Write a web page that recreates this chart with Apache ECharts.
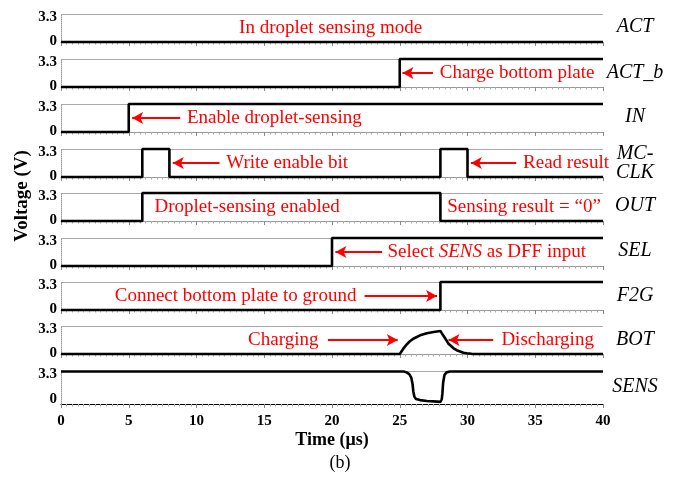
<!DOCTYPE html>
<html>
<head>
<meta charset="utf-8">
<script src="https://cdn.jsdelivr.net/npm/echarts@6/dist/echarts.min.js"></script>
<style>html,body{margin:0;background:#fff}#chart{width:684px;height:478px}</style>
</head>
<body>
<div id="chart"></div>
<script>
// signal names shown on the right of each strip
const signalNames = ['ACT', 'ACT_b', 'IN', 'MC-\nCLK', 'OUT', 'SEL', 'F2G', 'BOT', 'SENS'];
const yLabels = [0, 3.3];
const timeMin = 0, timeMax = 40, timeStep = 5;

// waveforms, [time us, volt]
const act = [[0, 0], [40, 0]];
const actB = [[0, 0], [25, 0], [25, 3.3], [40, 3.3]];
const inSig = [[0, 0], [5, 0], [5, 3.3], [40, 3.3]];
const mcClk = [[0, 0], [6, 0], [6, 3.3], [8, 3.3], [8, 0], [28, 0], [28, 3.3], [30, 3.3], [30, 0], [40, 0]];
const outSig = [[0, 0], [6, 0], [6, 3.3], [28, 3.3], [28, 0], [40, 0]];
const sel = [[0, 0], [20, 0], [20, 3.3], [40, 3.3]];
const f2g = [[0, 0], [28, 0], [28, 3.3], [40, 3.3]];
const bot = [[0, 0], [25, 0], [25.25, 0.6], [25.5, 1.1], [25.75, 1.5], [26, 1.8], [26.5, 2.2], [27, 2.45],
  [27.5, 2.6], [28, 2.72], [28.2, 2.2], [28.45, 1.6], [28.6, 1.2], [28.95, 0.7], [29.2, 0.45], [29.45, 0.3],
  [29.7, 0.15], [29.95, 0.08], [30.3, 0.02], [31, 0], [40, 0]];
const sens = [[0, 3.3], [25.3, 3.3], [25.5, 3.2], [25.7, 3.0], [25.85, 2.6], [25.95, 1.8], [26.0, 1.0],
  [26.08, 0.4], [26.2, 0.12], [26.5, 0.0], [27, -0.1], [27.5, -0.15], [28, -0.2], [28.1, 0.1], [28.15, 0.8],
  [28.2, 2.0], [28.3, 2.9], [28.45, 3.2], [28.7, 3.3], [40, 3.3]];
const waves = [act, actB, inSig, mcClk, outSig, sel, f2g, bot, sens];

// red notes: [strip, time, text, side]
const notes = [
  [0, 19.9, 'In droplet sensing mode', 'inside'],
  [1, 27.95, 'Charge bottom plate', 'right'],
  [2, 9.3, 'Enable droplet-sensing', 'right'],
  [3, 12.2, 'Write enable bit', 'right'],
  [3, 34.1, 'Read result', 'right'],
  [4, 6.9, 'Droplet-sensing enabled', 'right'],
  [4, 28.5, 'Sensing result = \u201c0\u201d', 'right'],
  [5, 24.1, 'Select {i|SENS} as DFF input', 'right'],
  [6, 21.8, 'Connect bottom plate to ground', 'left'],
  [7, 19.0, 'Charging', 'left'],
  [7, 32.5, 'Discharging', 'right']
];
// arrows: [strip, from, to]
const arrows = [
  [1, 27.45, 25.2],
  [2, 8.8, 5.25],
  [3, 11.7, 8.25],
  [3, 33.6, 30.25],
  [5, 23.7, 20.25],
  [6, 22.4, 27.75],
  [7, 19.7, 24.85],
  [7, 31.9, 28.6]
];

const serif = 'Liberation Serif';
const tops = [14, 59, 104, 149, 193, 238, 282, 326, 371.5];
const last = signalNames.length - 1;
const mid = 1.65;

const myChart = echarts.init(document.getElementById('chart'));

const grid = tops.map((t, i) => ({left: 61, right: 81, top: t, height: i === last ? 32.5 : 28}));

const xAxis = tops.map((t, i) => ({
  gridIndex: i, type: 'value', min: timeMin, max: timeMax, interval: timeStep,
  axisLine: {show: true, onZero: false, lineStyle: {color: i === last ? '#000' : '#999', width: 1}},
  axisTick: {show: true, length: 4, lineStyle: {color: '#888'}},
  minorTick: {show: true, splitNumber: 12, length: 2.5, lineStyle: {color: '#aaa'}},
  splitLine: {show: false},
  axisLabel: {show: i === last, color: '#000', fontFamily: serif, fontWeight: 'bold', fontSize: 15, margin: 10},
  name: i === last ? 'Time (\u03bcs)' : '',
  nameLocation: 'middle', nameGap: 27,
  nameTextStyle: {color: '#000', fontFamily: serif, fontWeight: 'bold', fontSize: 18}
}));

const yAxis = tops.map((t, i) => ({
  gridIndex: i, type: 'value', min: i === last ? -0.45 : 0, max: 3.3,
  axisLine: {show: true, lineStyle: {color: '#999', type: 'dotted'}},
  axisTick: {show: false, customValues: [3.3]},
  splitLine: {show: true, lineStyle: {color: '#aaa', width: 1}},
  axisLabel: {
    customValues: yLabels, margin: 4,
    formatter: v => (v > 0 ? '{t|' + v + '}' : '{b|' + v + '}'),
    rich: {
      t: {color: '#000', fontFamily: serif, fontWeight: 'bold', fontSize: 15, padding: [6, 0, 0, 0]},
      b: {color: '#000', fontFamily: serif, fontWeight: 'bold', fontSize: 15, padding: [0, 0, 1, 0]}
    }
  }
}));

const redText = {color: '#f00', fontFamily: serif, fontSize: 19};

const series = waves.map((w, i) => ({
  type: 'line', xAxisIndex: i, yAxisIndex: i, data: w,
  showSymbol: false, clip: false, animation: false,
  lineStyle: {color: '#000', width: 2.6},
  markLine: {
    silent: true, animation: false,
    symbol: ['none', 'arrow'], symbolSize: [9, 11],
    lineStyle: {color: '#f00', width: 2, type: 'solid'},
    label: {show: false},
    data: arrows.filter(a => a[0] === i).map(a => [{coord: [a[1], mid]}, {coord: [a[2], mid]}])
  },
  markPoint: {
    silent: true, animation: false, symbol: 'circle', symbolSize: 0,
    data: notes.filter(n => n[0] === i).map(n => ({
      coord: [n[1], mid],
      label: {
        show: true, position: n[3], distance: 0, formatter: n[2], ...redText,
        rich: {i: {...redText, fontStyle: 'italic'}}
      }
    }))
  }
}));

const labelY = [27, 73, 117, 163, 206, 251, 296, 340, 387];
const graphic = signalNames.map((s, i) => ({
  type: 'text', x: 635, y: labelY[i],
  style: {text: s, textAlign: 'center', textVerticalAlign: 'middle', align: 'center', verticalAlign: 'middle',
    fontFamily: serif, fontStyle: 'italic', fontSize: 20, lineHeight: 19, fill: '#000'}
}));
graphic.push({
  type: 'text', x: 22, y: 196, rotation: Math.PI / 2,
  style: {text: 'Voltage (V)', textAlign: 'center', textVerticalAlign: 'middle', align: 'center', verticalAlign: 'middle',
    fontFamily: serif, fontWeight: 'bold', fontSize: 19, fill: '#000'}
});
graphic.push({
  type: 'text', x: 340, y: 463,
  style: {text: '(b)', textAlign: 'center', textVerticalAlign: 'middle', align: 'center', verticalAlign: 'middle',
    fontFamily: serif, fontSize: 18, fill: '#000'}
});

myChart.setOption({
  animation: false,
  grid: grid,
  xAxis: xAxis,
  yAxis: yAxis,
  series: series,
  graphic: graphic
});
</script>
</body>
</html>
